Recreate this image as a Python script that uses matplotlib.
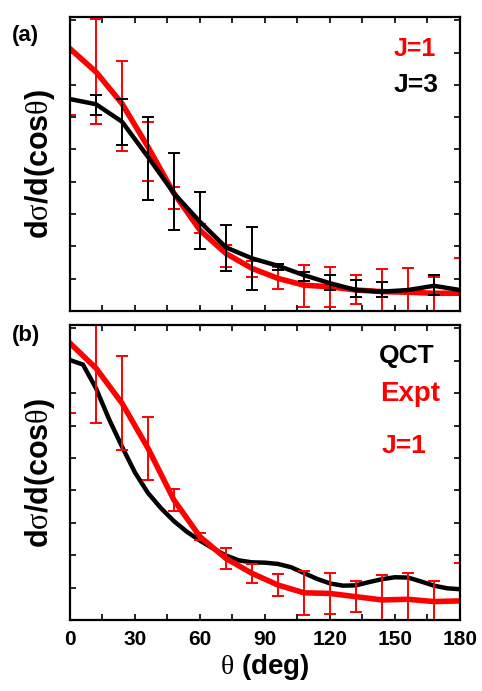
import numpy as np
import matplotlib
matplotlib.use("Agg")
import matplotlib.pyplot as plt

plt.rcParams['font.family'] = ['Liberation Sans', 'DejaVu Sans']
plt.rcParams['mathtext.fontset'] = 'custom'
plt.rcParams['mathtext.rm'] = 'Liberation Serif'
plt.rcParams['mathtext.it'] = 'Liberation Serif'
plt.rcParams['mathtext.bf'] = 'Liberation Sans:bold'

theta = np.arange(0, 181, 12)
theta_fine = np.arange(0, 181, 6)

# panel (a): J=1 (red) and J=3 (black)
j1_line = [8.12, 7.40, 6.42, 5.08, 3.64, 2.50, 1.78, 1.32, 1.01, 0.80, 0.75, 0.65, 0.60, 0.58, 0.55, 0.55]
j1_pts = [8.12, 7.42, 6.35, 4.94, 3.50, 2.55, 1.71, 1.30, 1.02, 0.77, 0.74, 0.67, 0.63, 0.60, 0.50, 0.55]
j1_err = [2.06, 1.63, 1.40, 0.92, 0.35, 0.15, 0.34, 0.26, 0.35, 0.66, 0.61, 0.45, 0.66, 0.74, 0.55, 1.10]

j3_line = [6.56, 6.40, 5.86, 4.77, 3.64, 2.76, 1.97, 1.63, 1.40, 1.11, 0.86, 0.65, 0.60, 0.65, 0.78, 0.65]
j3_theta = [12, 24, 36, 48, 60, 72, 84, 96, 108, 120, 132, 144, 168]
j3_pts = [6.38, 5.84, 4.71, 3.70, 2.80, 1.95, 1.62, 1.37, 1.08, 0.88, 0.70, 0.66, 0.81]
j3_err = [0.32, 0.71, 1.28, 1.20, 0.88, 0.71, 0.97, 0.10, 0.14, 0.23, 0.26, 0.24, 0.31]

# panel (b): QCT (black) vs Expt J=1 (red)
qct = [8.02, 7.88, 7.15, 6.20, 5.35, 4.55, 3.92, 3.45, 3.05, 2.72, 2.45, 2.21, 1.99, 1.84, 1.78, 1.77,
       1.73, 1.63, 1.45, 1.27, 1.13, 1.06, 1.07, 1.17, 1.26, 1.32, 1.31, 1.19, 1.06, 0.98, 0.95]
expt = [8.54, 7.77, 6.69, 5.30, 3.70, 2.57, 1.90, 1.44, 1.08, 0.84, 0.82, 0.72, 0.62, 0.64, 0.57, 0.59]
expt_err = [2.14, 1.70, 1.46, 0.97, 0.35, 0.10, 0.33, 0.29, 0.34, 0.68, 0.62, 0.48, 0.77, 0.80, 0.64, 1.16]

fig = plt.figure(figsize=(4.82, 6.91), dpi=100)
ax1 = fig.add_axes([0.1452, 0.5499, 0.8091, 0.4255])
ax2 = fig.add_axes([0.1452, 0.1027, 0.8091, 0.4269])

ekw = dict(fmt='none', elinewidth=1.4, capsize=4, capthick=1.4)

ax1.plot(theta, j1_line, color='red', lw=4)
ax1.errorbar(theta, j1_pts, yerr=j1_err, ecolor='red', **ekw)
ax1.plot(theta, j3_line, color='black', lw=3.2)
ax1.errorbar(j3_theta, j3_pts, yerr=j3_err, ecolor='black', **ekw)

ax2.plot(theta_fine, qct, color='black', lw=3.2)
ax2.plot(theta, expt, color='red', lw=4)
ax2.errorbar(theta, expt, yerr=expt_err, ecolor='red', **ekw)

ylab = r'd$\mathrm{\sigma}$/d(cos$\mathrm{\theta}$)'
for ax in (ax1, ax2):
    ax.set_xlim(0, 180)
    ax.set_ylim(0, 9.1)
    ax.set_xticks(np.arange(0, 181, 30))
    ax.set_xticks(np.arange(15, 180, 30), minor=True)
    ax.set_yticks(np.arange(1, 10))
    ax.set_yticklabels([])
    ax.tick_params(which='both', direction='in', top=True, right=True,
                   length=4, width=1.2)
    for s in ax.spines.values():
        s.set_linewidth(1.6)
    ax.set_ylabel(ylab, fontsize=22, fontweight='bold')
    ax.yaxis.set_label_coords(-0.077, 0.5)
    ax.yaxis.label.set_verticalalignment('center')

ax1.set_xticklabels([])
ax2.set_xticklabels([str(t) for t in range(0, 181, 30)], fontsize=15, fontweight='bold')
ax2.tick_params(axis='x', pad=7)
ax2.set_xlabel(r'$\mathrm{\theta}$ (deg)', fontsize=20, fontweight='bold', labelpad=2)

tk = dict(transform=ax1.transAxes, fontweight='bold', ha='right', va='center')
ax1.text(0.938, 0.89, 'J=1', color='red', fontsize=18, **tk)
ax1.text(0.945, 0.77, 'J=3', color='black', fontsize=19, **tk)

tk['transform'] = ax2.transAxes
ax2.text(0.935, 0.895, 'QCT', color='black', fontsize=19, **tk)
ax2.text(0.95, 0.765, 'Expt', color='red', fontsize=20, **tk)
ax2.text(0.915, 0.59, 'J=1', color='red', fontsize=19, **tk)

fig.text(0.052, 0.948, '(a)', fontsize=16, fontweight='bold', ha='center', va='center')
fig.text(0.054, 0.515, '(b)', fontsize=16, fontweight='bold', ha='center', va='center')

fig.savefig('out.png', dpi=100)
